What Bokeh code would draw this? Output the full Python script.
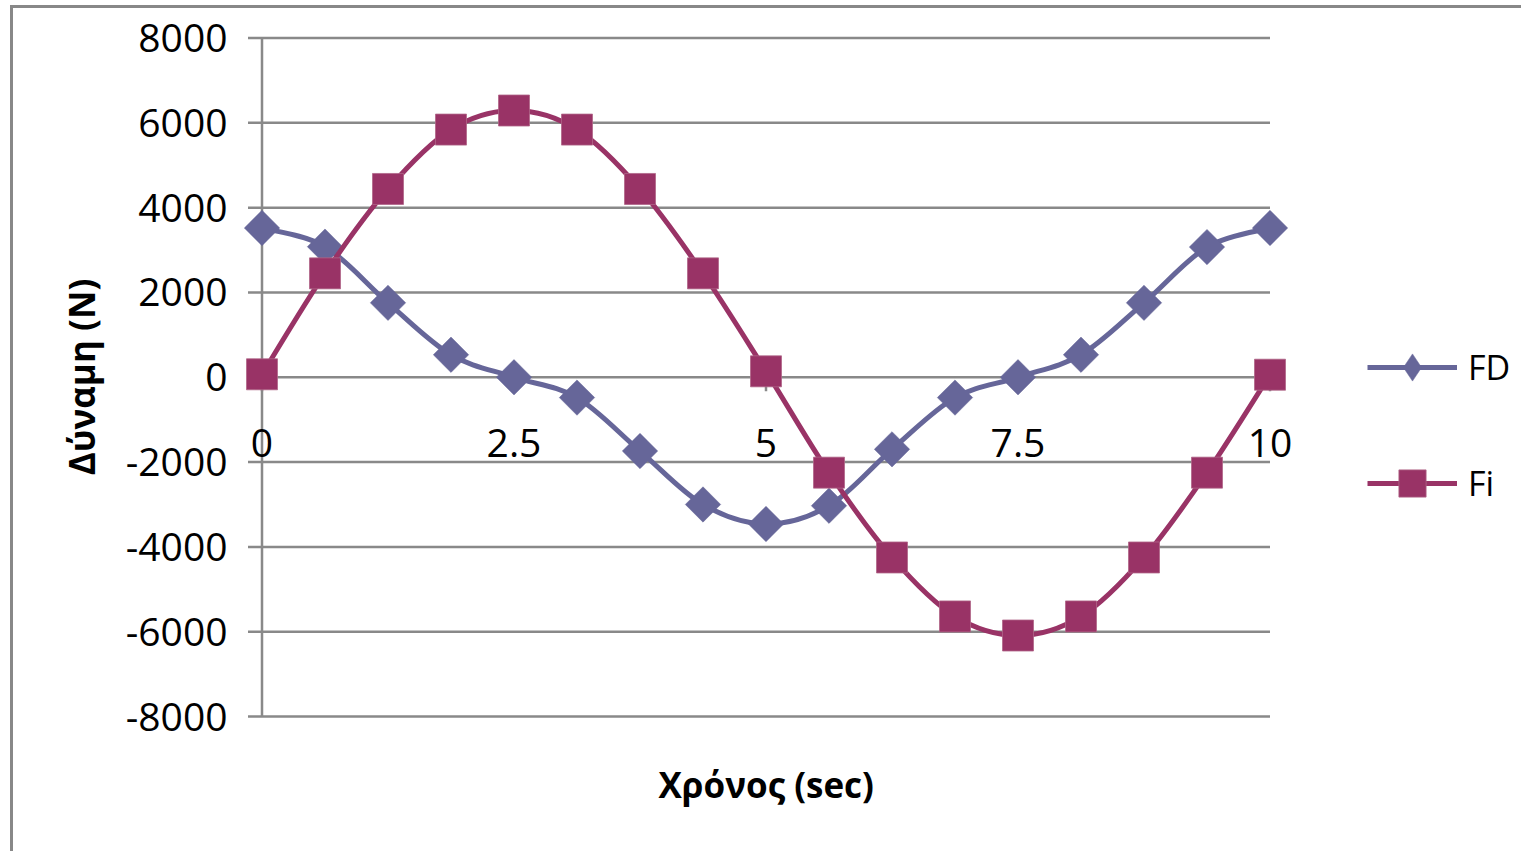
import math

from bokeh.plotting import figure
from bokeh.models import (Range1d, FixedTicker, ColumnDataSource, Legend, LegendItem,
                          Title)
from bokeh.embed import file_html
from bokeh.resources import INLINE
from bokeh.core.properties import value

# ---- data -------------------------------------------------------------
time_s = [0.0, 0.625, 1.25, 1.875, 2.5, 3.125, 3.75, 4.375, 5.0,
          5.625, 6.25, 6.875, 7.5, 8.125, 8.75, 9.375, 10.0]
fd = [3520, 3080, 1755, 530, 0, -480, -1740, -3000, -3460,
      -3030, -1700, -480, 0, 530, 1755, 3070, 3520]
fi = [70, 2450, 4440, 5840, 6290, 5840, 4440, 2450, 140,
      -2250, -4250, -5640, -6090, -5640, -4250, -2250, 60]
force_ticks = [-8000, -6000, -4000, -2000, 0, 2000, 4000, 6000, 8000]
time_ticks = [0, 2.5, 5, 7.5, 10]
time_tick_labels = ["0", "2.5", "5", "7.5", "10"]

# ---- style ------------------------------------------------------------
FD_COLOR = "#666699"
FI_COLOR = "#993366"
GRID_COLOR = "#898989"
FONT = "Open Sans"

# ---- geometry (canvas pixels) ----------------------------------------
W, H = 1511, 846
FRAME_LEFT = 219
FRAME_BOTTOM = 737
X_ZERO_PX = 248.5          # canvas x of t = 0
X_SCALE = 100.8            # px per second
Y_TOP_TICK_PX = 29.5       # canvas y of +8000
Y_SCALE = 678.5 / 16000.0  # px per newton
TICK_PX = 14
X_TITLE_OFFSET = 426       # from the frame's left edge

x_start = -(X_ZERO_PX - FRAME_LEFT) / X_SCALE
x_end = x_start + (W - FRAME_LEFT) / X_SCALE
y_end = force_ticks[-1] + Y_TOP_TICK_PX / Y_SCALE
y_start = y_end - FRAME_BOTTOM / Y_SCALE

p = figure(width=W, height=H, output_backend="svg", toolbar_location=None,
           x_range=Range1d(x_start, x_end), y_range=Range1d(y_start, y_end),
           x_axis_location=None, min_border=0, min_border_left=FRAME_LEFT,
           min_border_bottom=H - FRAME_BOTTOM,
           background_fill_color="white", border_fill_color="white",
           outline_line_color=None)
p.styles = {"border-left": "3px solid #888888", "border-top": "3px solid #888888",
            "margin-left": "10px", "margin-top": "5px"}
p.xgrid.visible = False
p.ygrid.visible = False

# y axis: labels and title; rules are drawn as glyphs so they stop at the data extent
yax = p.yaxis[0]
yax.ticker = FixedTicker(ticks=force_ticks)
yax.major_label_overrides = {t: str(t) for t in force_ticks}
yax.axis_line_color = None
yax.major_tick_line_color = None
yax.minor_tick_line_color = None
yax.major_tick_in = 0
yax.major_tick_out = 0
yax.major_label_standoff = 5
yax.major_label_text_font = FONT
yax.major_label_text_font_size = "39px"
yax.major_label_text_color = "black"
yax.axis_label = "Δύναμη (N)"
yax.axis_label_text_font = FONT
yax.axis_label_text_font_size = "35px"
yax.axis_label_text_font_style = "bold"
yax.axis_label_text_color = "black"
yax.axis_label_standoff = 18

# horizontal-axis title below the plot, centred under t = 5
p.add_layout(Title(text="Χρόνος (sec)", align="left", offset=X_TITLE_OFFSET,
                   vertical_align="top", standoff=30,
                   text_font=FONT, text_font_size="35px", text_font_style="bold",
                   text_color="black"), "below")

tick_dx = TICK_PX / X_SCALE
tick_dy = TICK_PX / Y_SCALE

# horizontal grid lines (also serve as y-axis ticks on the left)
p.segment(x0=[-tick_dx] * len(force_ticks), y0=force_ticks,
          x1=[time_ticks[-1]] * len(force_ticks), y1=force_ticks,
          line_color=GRID_COLOR, line_width=2.5)
# vertical axis line at t = 0
p.segment(x0=[0], y0=[force_ticks[0]], x1=[0], y1=[force_ticks[-1]],
          line_color=GRID_COLOR, line_width=2.5)
# x-axis tick marks hanging below the zero line
p.segment(x0=time_ticks, y0=[0] * len(time_ticks),
          x1=time_ticks, y1=[-tick_dy] * len(time_ticks),
          line_color=GRID_COLOR, line_width=2.5)
# x tick labels sit just under the zero line
p.text(x=time_ticks, y=[0] * len(time_ticks), text=time_tick_labels,
       text_font=value(FONT), text_font_size="39px", text_color="black",
       text_align="center", text_baseline="alphabetic", y_offset=66)


def smooth(xs, ys):
    """Cubic Bezier pieces through the points (Catmull-Rom style)."""
    n = len(xs)
    d = dict(x0=[], y0=[], x1=[], y1=[], cx0=[], cy0=[], cx1=[], cy1=[])
    for i in range(n - 1):
        a = max(i - 1, 0)
        b = min(i + 2, n - 1)
        d["x0"].append(xs[i]); d["y0"].append(ys[i])
        d["x1"].append(xs[i + 1]); d["y1"].append(ys[i + 1])
        d["cx0"].append(xs[i] + (xs[i + 1] - xs[a]) / 6.0)
        d["cy0"].append(ys[i] + (ys[i + 1] - ys[a]) / 6.0)
        d["cx1"].append(xs[i + 1] - (xs[b] - xs[i]) / 6.0)
        d["cy1"].append(ys[i + 1] - (ys[b] - ys[i]) / 6.0)
    return ColumnDataSource(d)


fd_line = p.bezier(x0="x0", y0="y0", x1="x1", y1="y1", cx0="cx0", cy0="cy0",
                   cx1="cx1", cy1="cy1", source=smooth(time_s, fd),
                   line_color=FD_COLOR, line_width=5)
fd_pts = p.scatter(time_s, fd, marker="square", angle=math.pi / 4, size=25,
                   fill_color=FD_COLOR, line_color=FD_COLOR, line_width=0.5)
fi_line = p.bezier(x0="x0", y0="y0", x1="x1", y1="y1", cx0="cx0", cy0="cy0",
                   cx1="cx1", cy1="cy1", source=smooth(time_s, fi),
                   line_color=FI_COLOR, line_width=5)
fi_pts = p.scatter(time_s, fi, marker="square", size=31,
                   fill_color=FI_COLOR, line_color="#b06688", line_width=0.8)

# legend swatches ignore marker angle, so FD gets a diamond key (not drawn in the plot)
fd_key = p.scatter(time_s, fd, marker="diamond", fill_color=FD_COLOR,
                   line_color=FD_COLOR, line_width=0.5, visible=False)

legend = Legend(items=[LegendItem(label="FD", renderers=[fd_line, fd_key]),
                       LegendItem(label="Fi", renderers=[fi_line, fi_pts])],
                location=(1135, 228), orientation="vertical",
                glyph_width=90, glyph_height=68, label_height=40,
                label_standoff=11, spacing=48, padding=0, margin=0,
                label_text_font=FONT, label_text_font_size="34px",
                label_text_color="black", inactive_fill_alpha=0,
                background_fill_alpha=0, border_line_color=None)
p.add_layout(legend, "center")

open("out.html", "w").write(file_html(p, INLINE))
